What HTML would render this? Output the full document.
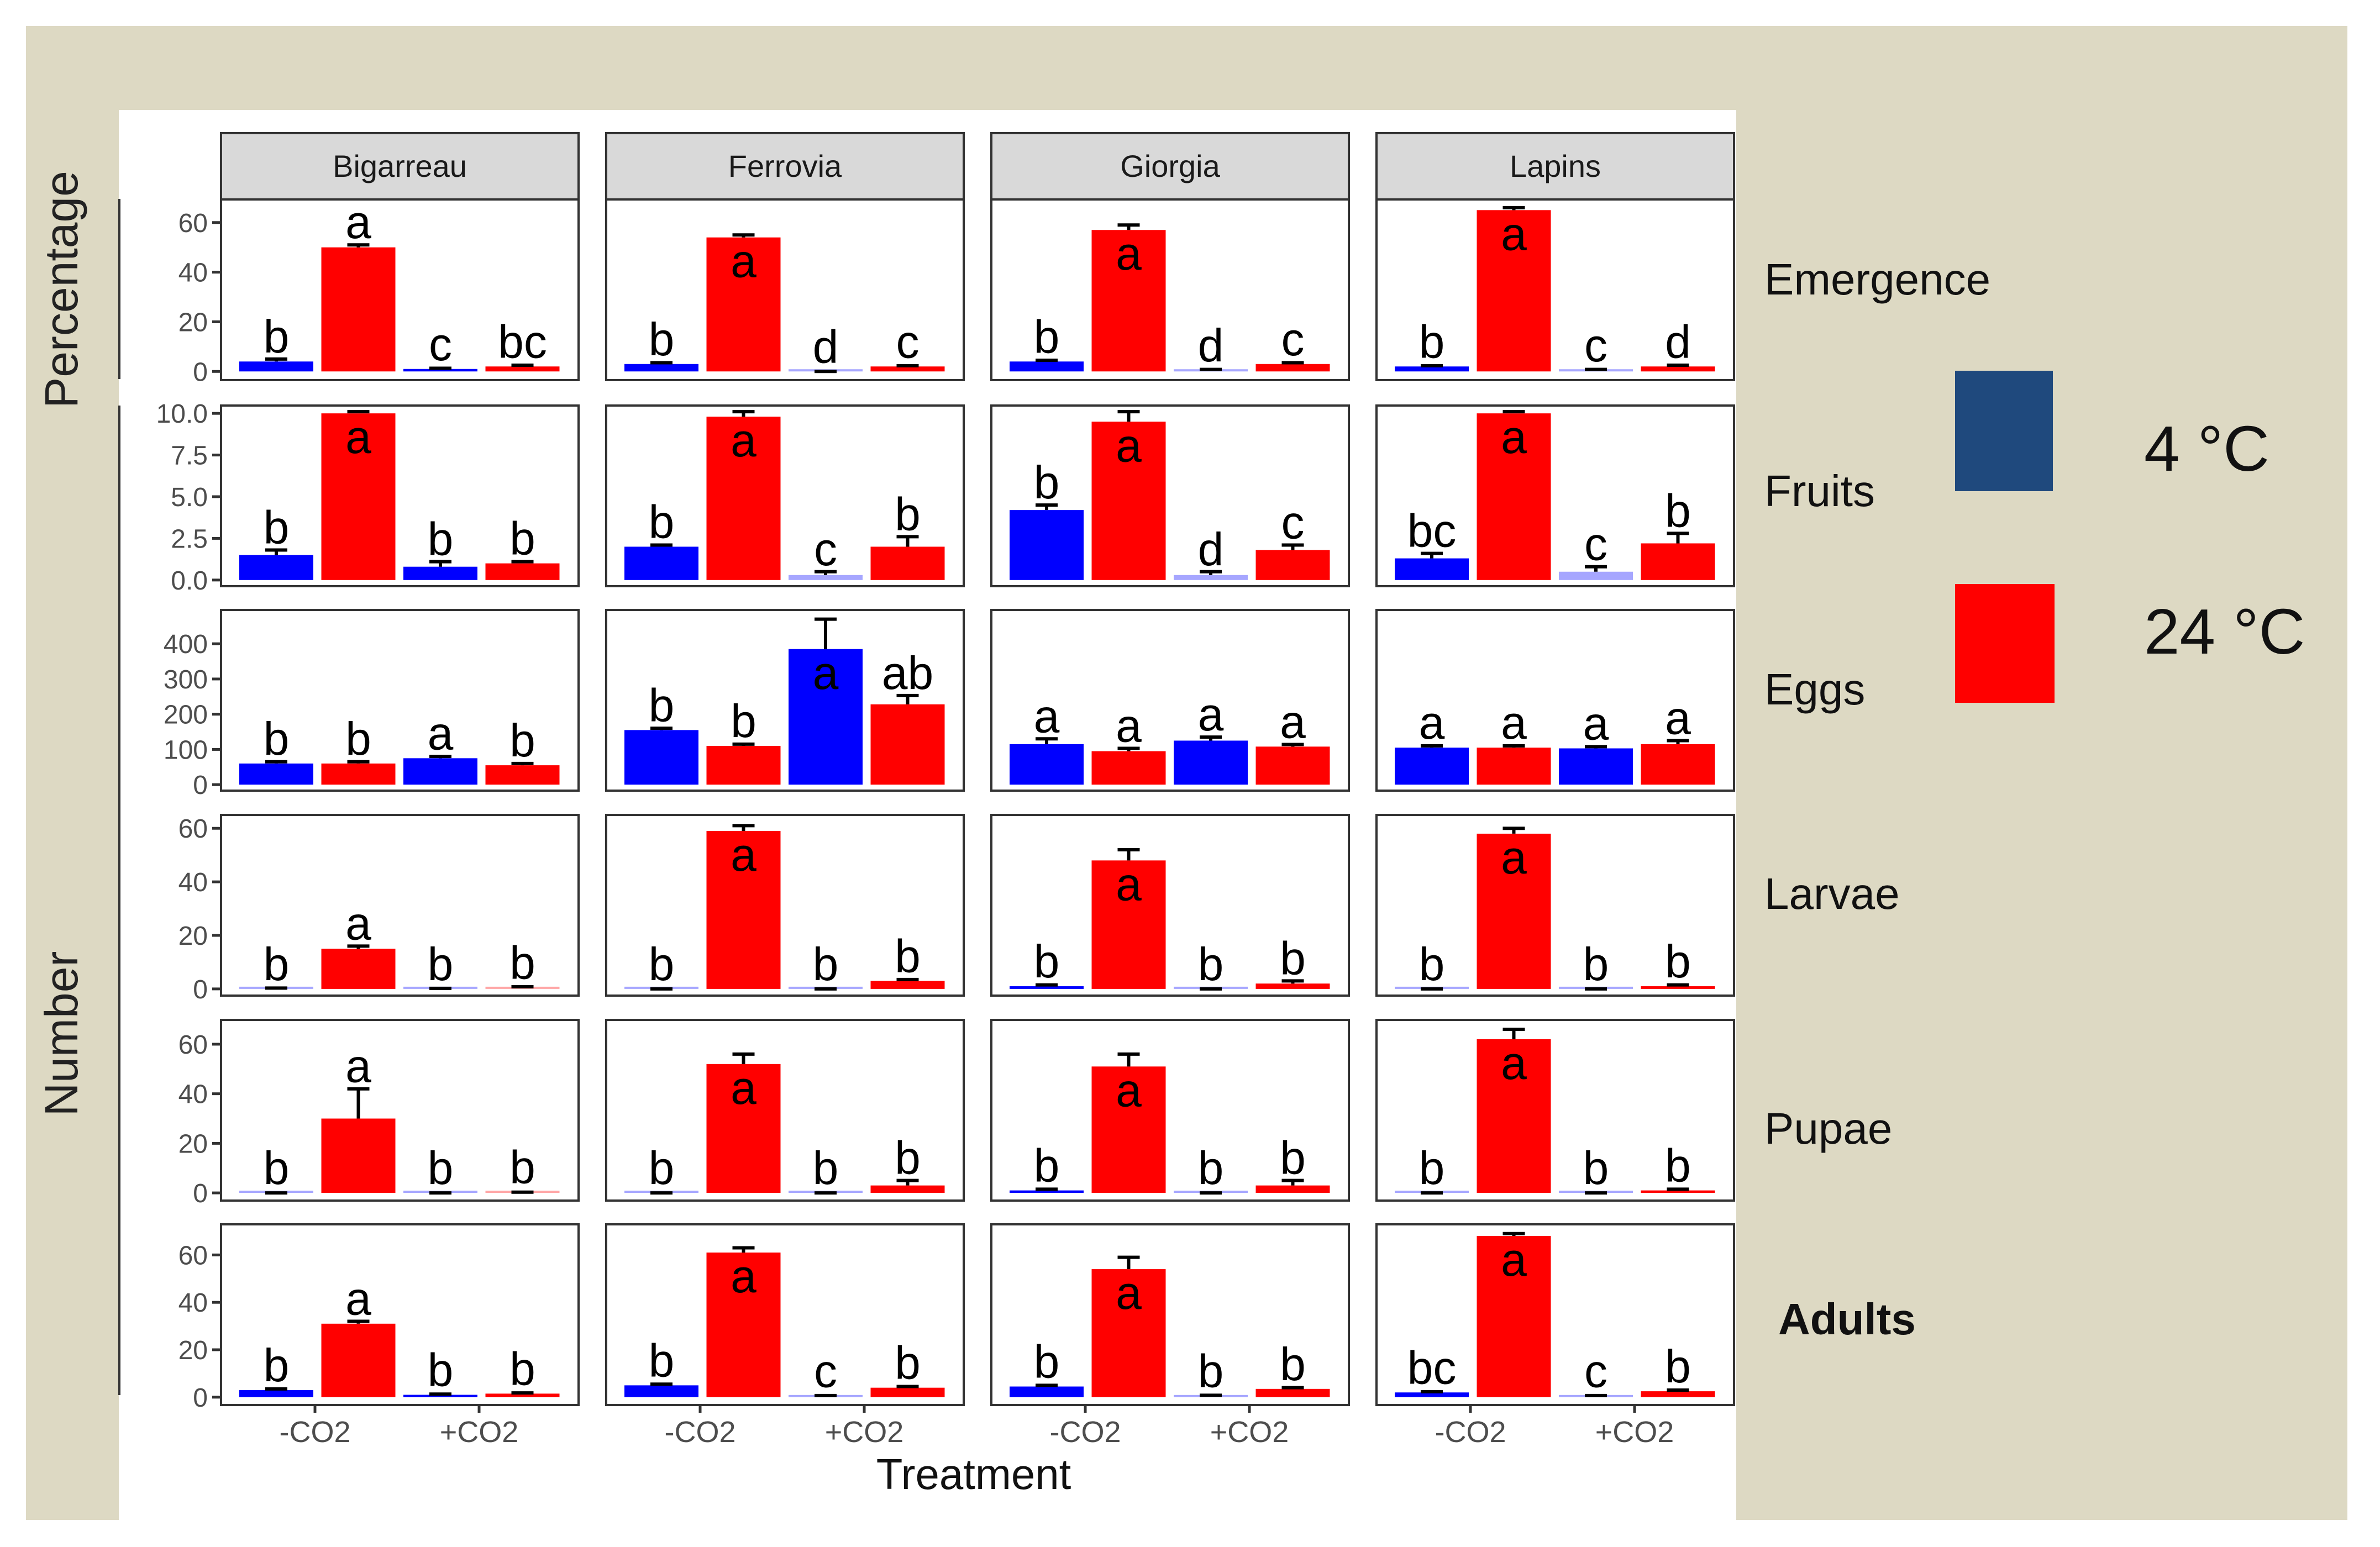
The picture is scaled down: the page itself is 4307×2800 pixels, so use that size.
<!DOCTYPE html>
<html><head><meta charset="utf-8"><style>
html,body{margin:0;padding:0;background:#fff;}
svg{display:block;font-family:"Liberation Sans",sans-serif;}
</style></head><body>
<svg id="chart" width="4307" height="2800" viewBox="0 0 4307 2800" xmlns="http://www.w3.org/2000/svg">
<rect x="0" y="0" width="4307" height="2800" fill="#ffffff"/>
<rect x="47" y="47" width="4201" height="2704" fill="#DDD9C3"/>
<rect x="215" y="199" width="2927" height="2552" fill="#ffffff"/>
<g id="plots"></g>
<text transform="translate(140,524) rotate(-90)" text-anchor="middle" font-size="84" fill="#222">Percentage</text>
<text transform="translate(140,1871) rotate(-90)" text-anchor="middle" font-size="84" fill="#222">Number</text>
<line x1="216" y1="360" x2="216" y2="686" stroke="#333" stroke-width="4"/>
<line x1="216" y1="734" x2="216" y2="2525" stroke="#333" stroke-width="4"/>
<text x="1762" y="2695" text-anchor="middle" font-size="78" fill="#111">Treatment</text>
<g>
<rect x="3538" y="671" width="177" height="218" fill="#1F497D"/>
<text x="3880" y="852" font-size="116" fill="#111">4 °C</text>
<rect x="3538" y="1057" width="180" height="215" fill="#FF0000"/>
<text x="3880" y="1183" font-size="116" fill="#111">24 °C</text>
</g>
</svg>
<script>
const cultivars = ["Bigarreau","Ferrovia","Giorgia","Lapins"];
const rowNames = ["Emergence","Fruits","Eggs","Larvae","Pupae","Adults"];
const treatments = ["-CO2","+CO2"];
const temps = ["4C","24C"];
// bar order per panel: [-CO2 4C, -CO2 24C, +CO2 4C, +CO2 24C]
const emergenceVals = [[4,50,1,2],[3,54,0,2],[4,57,0.5,3],[2,65,0.5,2]];
const emergenceSE   = [[1,1,0.3,0.5],[0.5,1,0,0.3],[0.5,2,0.3,0.5],[0.3,1,0.3,0.5]];
const emergenceLet  = [["b","a","c","bc"],["b","a","d","c"],["b","a","d","c"],["b","a","c","d"]];
const fruitsVals = [[1.5,10,0.8,1.0],[2.0,9.8,0.3,2.0],[4.2,9.5,0.3,1.8],[1.3,10,0.5,2.2]];
const fruitsSE   = [[0.3,0.1,0.3,0.1],[0.1,0.3,0.2,0.6],[0.3,0.6,0.2,0.3],[0.3,0.1,0.3,0.6]];
const fruitsLet  = [["b","a","b","b"],["b","a","c","b"],["b","a","d","c"],["bc","a","c","b"]];
const eggsVals = [[60,60,75,55],[155,110,385,228],[115,95,125,108],[105,105,103,115]];
const eggsSE   = [[5,5,5,5],[5,5,85,25],[15,8,10,6],[5,5,5,10]];
const eggsLet  = [["b","b","a","b"],["b","b","a","ab"],["a","a","a","a"],["a","a","a","a"]];
const larvaeVals = [[0,15,0,0.5],[0,59,0,3],[1,48,0,2],[0,58,0,1]];
const larvaeSE   = [[0.3,1,0.2,0.3],[0,2,0,0.5],[0.5,4,0,1],[0,2,0,0.5]];
const larvaeLet  = [["b","a","b","b"],["b","a","b","b"],["b","a","b","b"],["b","a","b","b"]];
const pupaeVals = [[0,30,0,0.3],[0,52,0,3],[1,51,0,3],[0,62,0,1]];
const pupaeSE   = [[0,12,0,0],[0,4,0,2],[0.5,5,0,2],[0,4,0,0.5]];
const pupaeLet  = [["b","a","b","b"],["b","a","b","b"],["b","a","b","b"],["b","a","b","b"]];
const adultsVals = [[3,31,1,1.5],[5,61,0.5,4],[4.5,54,0.5,3.5],[2,68,0.5,2.5]];
const adultsSE   = [[0.5,1,0.3,0.3],[0.5,2,0.2,0.5],[0.5,5,0.3,0.5],[0.3,1,0.2,0.5]];
const adultsLet  = [["b","a","b","b"],["b","a","c","b"],["b","a","b","b"],["bc","a","c","b"]];
const yTicksEmergence = ["0","20","40","60"];
const yTicksFruits = ["0.0","2.5","5.0","7.5","10.0"];
const yTicksEggs = ["0","100","200","300","400"];
const yTicksCounts = ["0","20","40","60"];

const rowsVals=[emergenceVals,fruitsVals,eggsVals,larvaeVals,pupaeVals,adultsVals];
const rowsSE=[emergenceSE,fruitsSE,eggsSE,larvaeSE,pupaeSE,adultsSE];
const rowsLet=[emergenceLet,fruitsLet,eggsLet,larvaeLet,pupaeLet,adultsLet];
const rowsTicks=[yTicksEmergence,yTicksFruits,yTicksEggs,yTicksCounts,yTicksCounts,yTicksCounts];
// layout
const panelX0=400, panelPitch=697, panelW=647, panelH=327;
const rowTop=[361,734,1104,1475,1846,2216];
const domains=[[-3.5,69.3],[-0.37,10.47],[-17,496],[-2.5,65],[-3.1,69.8],[-3.3,72.9]];
const labelY=[533,916,1275,1645,2070,2415];
const NS="http://www.w3.org/2000/svg";
const g=document.getElementById('plots');
function mk(tag,attrs,parent){const e=document.createElementNS(NS,tag);for(const k in attrs)e.setAttribute(k,attrs[k]);(parent||g).appendChild(e);return e;}

cultivars.forEach((c,ci)=>{
  const x=panelX0+ci*panelPitch;
  const s=mk('rect',{x:x,y:241,width:panelW,height:120,fill:'#d9d9d9',stroke:'#333','stroke-width':4});
  
  
  const t=mk('text',{x:x+panelW/2,y:320,'text-anchor':'middle','font-size':56,fill:'#1a1a1a'});
  t.textContent=c;
  
  
});

rowNames.forEach((rn,ri)=>{
  const top=rowTop[ri], bot=top+panelH, d=domains[ri];
  const yS=v=>bot-(v-d[0])/(d[1]-d[0])*panelH;
  const lab=mk('text',{x:rn==="Adults"?3218:3193,y:labelY[ri],'font-size':80,fill:'#111','font-weight':rn==="Adults"?'bold':'normal'});
  lab.textContent=rn;
  
  
  rowsTicks[ri].forEach(tl=>{
    const v=parseFloat(tl), y=yS(v);
    const tk=mk('line',{x1:panelX0-16,x2:panelX0,y1:y,y2:y,stroke:'#333','stroke-width':5});
    
    
    const tt=mk('text',{x:panelX0-24,y:y+17,'text-anchor':'end','font-size':48,fill:'#4d4d4d'});
    tt.textContent=tl;
    
    
  });
  cultivars.forEach((c,ci)=>{
    const px=panelX0+ci*panelPitch;
    const pr=mk('rect',{x:px,y:top,width:panelW,height:panelH,fill:'#fff',stroke:'#333','stroke-width':4});
    
    
    rowsVals[ri][ci].forEach((v,bi)=>{
      const se=rowsSE[ri][ci][bi];
      const bx=px+33+bi*148.5, bw=134;
      const y0=yS(0), y1=yS(v);
      const col=(bi%2===0)?'#0000FF':'#FF0000';
      const h=Math.max(y0-y1,4);
      const b=mk('rect',{x:bx,y:y0-h,width:bw,height:h,fill:col,opacity:(v<0.8?0.35:1)});
      
      
      const cx=bx+bw/2, ye=yS(v+se);
      const eb=mk('path',{d:`M${cx},${y1} L${cx},${ye} M${cx-20},${ye} L${cx+20},${ye}`,stroke:'#000','stroke-width':6,fill:'none'});
      
      
      let ly=Math.min(ye,y1-4)-12;
      if(ly<top+55) ly=y1+72;
      const lt=mk('text',{x:cx,y:ly,'text-anchor':'middle','font-size':84,fill:'#000'});
      lt.textContent=rowsLet[ri][ci][bi];
      
      
    });
  });
});
cultivars.forEach((c,ci)=>{
  const px=panelX0+ci*panelPitch, bot=rowTop[5]+panelH;
  treatments.forEach((t,ti)=>{
    const x=px+170+ti*297;
    const tk=mk('line',{x1:x,x2:x,y1:bot,y2:bot+14,stroke:'#333','stroke-width':5});
    
    
    const tt=mk('text',{x:x,y:2610,'text-anchor':'middle','font-size':54,fill:'#4d4d4d'});
    tt.textContent=t;
    
    
  });
});
</script>
</body></html>
